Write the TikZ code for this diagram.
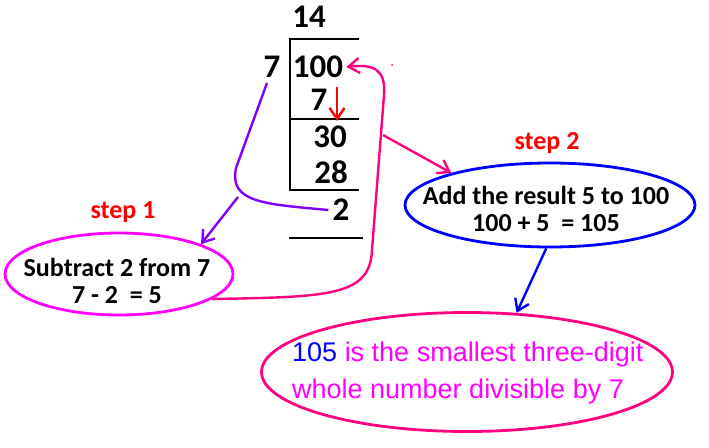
\documentclass[tikz,border=0pt]{standalone}
\usepackage{fontspec}
\setmainfont{Carlito}
\newfontfamily\arialf{Liberation Sans}
\usetikzlibrary{arrows.meta,shapes.geometric}
\definecolor{dpink}{HTML}{FF0080}
\definecolor{mag}{HTML}{FF00FF}
\definecolor{purp}{HTML}{8000FF}
\definecolor{bl}{HTML}{0000FF}
\definecolor{rd}{HTML}{FF0000}
\begin{document}
\begin{tikzpicture}[x=1pt,y=-1pt,
  num/.style={font=\fontsize{33}{35}\selectfont\bfseries, inner sep=0pt},
  txt/.style={font=\fontsize{26}{27.5}\selectfont\bfseries, inner sep=0pt, align=center},
  steplbl/.style={font=\fontsize{26}{28}\selectfont\bfseries, text=rd, inner sep=0pt},
  oval/.style={ellipse, draw, line width=2.8pt, inner sep=0pt},
  rule/.style={line width=2.6pt},
  barb/.style={-{Straight Barb[length=11pt,width=15pt]}, line width=2.4pt},
]
\useasboundingbox[fill=white] (0,0) rectangle (709,447);

% division
\node[num] (q) at (309,17) {14};
\node[num] (dvs) at (272,67) {7};
\node[num] (dd) at (318,67) {100};
\node[num] (s1) at (319,100) {7};
\node[num] (r1) at (330,137) {30};
\node[num] (s2) at (331,172) {28};
\node[num] (rem) at (341,210) {2};
\draw[rule] (359,39) -- (290,39) -- (290,190) -- (359,190);
\draw[rule] (290,119) -- (359,119);
\draw[rule] (289,238) -- (363,238);

% red arrow
\coordinate (ra) at (337,87);
\coordinate (rb) at (337,121);
\draw[barb, rd] (ra) -- (rb);

% ovals
\node[oval, draw=mag, minimum width=228pt, minimum height=82pt] (sub) at (119,274) {};
\node[txt] (subt) at (117,281) {Subtract 2 from 7\\7 - 2 \ = 5};
\node[steplbl] (st1) at (123,212) {step 1};

\node[oval, draw=bl, minimum width=290pt, minimum height=84pt] (add) at (550,205) {};
\node[txt] (addt) at (546,209) {Add the result 5 to 100\\100 + 5 \ = 105};
\node[steplbl] (st2) at (547,143) {step 2};

\node[oval, draw=dpink, minimum width=411pt, minimum height=119pt] (fin) at (467,372) {};
\node[inner sep=0pt, anchor=west, align=left, font=\arialf\fontsize{27}{37}\selectfont, text=mag] (fint) at (292,373)
  {\textcolor{bl}{105} is the smallest three-digit\\whole number divisible by 7};

% purple connectors
\coordinate (pj) at (238,197);
\draw[purp, line width=2.4pt] ([xshift=-5pt,yshift=-16pt]dvs.center) -- (236,168) .. controls (229,202) and (262,204) .. ([xshift=-4pt]rem.west);
\draw[purp, barb] (pj) -- (sub.20);

% pink connectors
\coordinate (pk) at (383,135);
\draw[dpink, barb] (sub.-15) .. controls (330,297) and (370,296) .. (372,250) -- (384,95) .. controls (386,68) and (372,64) .. ([xshift=3pt]dd.east);
\draw[dpink, barb] (pk) -- (add.162);
\fill[dpink] (392,65) circle (1pt);

% blue connector
\draw[bl, barb] (add.-95) -- (fin.50);
\end{tikzpicture}
\end{document}
